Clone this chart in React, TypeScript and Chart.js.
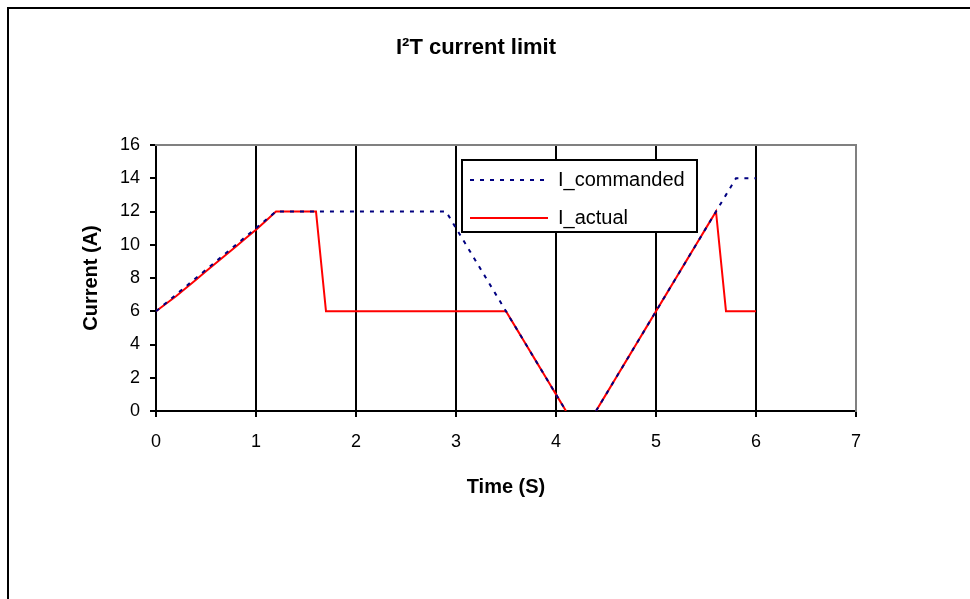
import React, { useEffect, useRef } from 'react';
import { Chart, registerables } from 'chart.js';

Chart.register(...registerables);

const titleText = 'I²T current limit';
const xTitle = 'Time (S)';
const yTitle = 'Current (A)';
const seriesNames = ['I_commanded', 'I_actual'];

const timeS = [
  0, 0.1, 0.2, 0.3, 0.4, 0.5, 0.6, 0.7, 0.8, 0.9,
  1.0, 1.1, 1.2, 1.3, 1.4, 1.5, 1.6, 1.7, 1.8, 1.9,
  2.0, 2.1, 2.2, 2.3, 2.4, 2.5, 2.6, 2.7, 2.8, 2.9,
  3.0, 3.1, 3.2, 3.3, 3.4, 3.5, 3.6, 3.7, 3.8, 3.9,
  4.0, 4.1, 4.2, 4.3, 4.4, 4.5, 4.6, 4.7, 4.8, 4.9,
  5.0, 5.1, 5.2, 5.3, 5.4, 5.5, 5.6, 5.7, 5.8, 5.9,
  6.0,
];

const iCommanded = [
  6, 6.5, 7, 7.5, 8, 8.5, 9, 9.5, 10, 10.5,
  11, 11.5, 12, 12, 12, 12, 12, 12, 12, 12,
  12, 12, 12, 12, 12, 12, 12, 12, 12, 12,
  11, 10, 9, 8, 7, 6, 5, 4, 3, 2,
  1, 0, null, null, 0, 1, 2, 3, 4, 5,
  6, 7, 8, 9, 10, 11, 12, 13, 14, 14,
  14,
];

const iActual = [
  6, 6.45, 6.9, 7.4, 7.9, 8.4, 8.9, 9.4, 9.9, 10.4,
  10.9, 11.45, 12, 12, 12, 12, 12, 6, 6, 6,
  6, 6, 6, 6, 6, 6, 6, 6, 6, 6,
  6, 6, 6, 6, 6, 6, 5, 4, 3, 2,
  1, 0, null, null, 0, 1, 2, 3, 4, 5,
  6, 7, 8, 9, 10, 11, 12, 6, 6, 6,
  6,
];

const xMin = 0;
const xMax = 7;
const xStep = 1;
const yMin = 0;
const yMax = 16;
const yStep = 2;

const FONT = '"Liberation Sans", Arial, sans-serif';
const NAVY = '#000080';
const RED = '#FF0000';
const GRAY = '#808080';

const framePlugin = {
  id: 'frame',
  beforeDraw(chart: any) {
    const ctx = chart.ctx;
    ctx.save();
    ctx.fillStyle = '#ffffff';
    ctx.fillRect(0, 0, chart.width, chart.height);
    ctx.fillStyle = '#000000';
    ctx.fillRect(7, 7, chart.width - 7, 2);
    ctx.fillRect(7, 7, 2, chart.height - 7);
    ctx.restore();
  },
};

const boxLegendPlugin = {
  id: 'boxLegend',
  afterDatasetsDraw(chart: any) {
    const ctx = chart.ctx;
    const ca = chart.chartArea;
    const x = ca.left + 306;
    const y = ca.top + 15;
    const w = 235;
    const h = 72;
    ctx.save();
    ctx.fillStyle = '#ffffff';
    ctx.fillRect(x, y, w, h);
    ctx.strokeStyle = '#000000';
    ctx.lineWidth = 2;
    ctx.strokeRect(x, y, w, h);
    const rows = [y + 20, y + 58];
    chart.data.datasets.forEach((ds: any, i: number) => {
      const ry = rows[i];
      ctx.beginPath();
      ctx.strokeStyle = ds.borderColor;
      ctx.lineWidth = ds.borderWidth;
      ctx.setLineDash(ds.borderDash || []);
      ctx.moveTo(x + 8, ry);
      ctx.lineTo(x + 86, ry);
      ctx.stroke();
      ctx.setLineDash([]);
      ctx.fillStyle = '#000000';
      ctx.font = `20px ${FONT}`;
      ctx.textBaseline = 'middle';
      ctx.textAlign = 'left';
      ctx.fillText(ds.label, x + 96, ry);
    });
    ctx.restore();
  },
};

export default function App() {
  const canvasRef = useRef<HTMLCanvasElement | null>(null);

  useEffect(() => {
    const canvas = canvasRef.current;
    if (!canvas) return;
    const chart = new Chart(canvas, {
      type: 'line',
      data: {
        datasets: [
          {
            label: seriesNames[0],
            data: timeS.map((t, i) => ({ x: t, y: iCommanded[i] })),
            borderColor: NAVY,
            backgroundColor: NAVY,
            borderWidth: 2,
            borderDash: [4, 6],
            pointRadius: 0,
            tension: 0,
            spanGaps: false,
            fill: false,
          },
          {
            label: seriesNames[1],
            data: timeS.map((t, i) => ({ x: t, y: iActual[i] })),
            borderColor: RED,
            backgroundColor: RED,
            borderWidth: 2,
            pointRadius: 0,
            tension: 0,
            spanGaps: false,
            fill: false,
          },
        ],
      },
      options: {
        animation: false,
        responsive: false,
        devicePixelRatio: 1,
        layout: { padding: { left: 0, right: 18, top: 0, bottom: 0 } },
        plugins: {
          legend: { display: false },
          tooltip: { enabled: false },
          title: {
            display: true,
            text: titleText,
            color: '#000000',
            font: { family: FONT, size: 22, weight: 'bold', lineHeight: 1.2 },
            padding: { top: 34.8, bottom: 0 },
          },
        },
        scales: {
          x: {
            type: 'linear',
            position: 'bottom',
            min: xMin,
            max: xMax,
            ticks: {
              stepSize: xStep,
              color: '#000000',
              font: { family: FONT, size: 18 },
              padding: 14,
              maxRotation: 0,
            },
            grid: {
              color: (c: any) => (c.tick && c.tick.value === xMax ? GRAY : '#000000'),
              lineWidth: 2,
              tickColor: '#000000',
              tickLength: 6,
              drawTicks: true,
            },
            border: { display: true, color: '#000000', width: 2 },
            title: {
              display: true,
              text: xTitle,
              color: '#000000',
              font: { family: FONT, size: 20, weight: 'bold', lineHeight: 1.2 },
              padding: { top: 0, bottom: 100 },
            },
            afterFit: (s: any) => {
              s.height = 188;
            },
          },
          y: {
            type: 'linear',
            position: 'left',
            min: yMin,
            max: yMax,
            ticks: {
              stepSize: yStep,
              color: '#000000',
              font: { family: FONT, size: 18 },
              padding: 10,
            },
            grid: {
              drawOnChartArea: false,
              drawTicks: true,
              tickLength: 6,
              color: '#000000',
              tickColor: '#000000',
              lineWidth: 2,
            },
            border: { display: true, color: '#000000', width: 2 },
            title: {
              display: true,
              text: yTitle,
              color: '#000000',
              font: { family: FONT, size: 20, weight: 'bold', lineHeight: 1.2 },
              padding: { top: 79, bottom: 0 },
            },
            afterFit: (s: any) => {
              s.width = 156;
            },
          },
          xTop: {
            type: 'linear',
            position: 'top',
            min: xMin,
            max: xMax,
            ticks: { display: false },
            grid: { display: true, drawOnChartArea: false, drawTicks: false, color: 'rgba(0,0,0,0)' },
            border: { display: true, color: GRAY, width: 2 },
            afterFit: (s: any) => {
              s.height = 145 - 61.2;
            },
          },
          yRight: {
            type: 'linear',
            position: 'right',
            min: yMin,
            max: yMax,
            ticks: { display: false },
            grid: { display: true, drawOnChartArea: false, drawTicks: false, color: 'rgba(0,0,0,0)' },
            border: { display: true, color: GRAY, width: 2 },
            afterFit: (s: any) => {
              s.width = 96;
            },
          },
        },
      },
      plugins: [framePlugin, boxLegendPlugin],
    } as any);
    return () => {
      chart.destroy();
    };
  }, []);

  return (
    <div style={{ position: 'absolute', left: 0, top: 0, width: 970, height: 599, background: '#fff' }}>
      <canvas ref={canvasRef} width={970} height={599} style={{ display: 'block', width: 970, height: 599 }} />
    </div>
  );
}
